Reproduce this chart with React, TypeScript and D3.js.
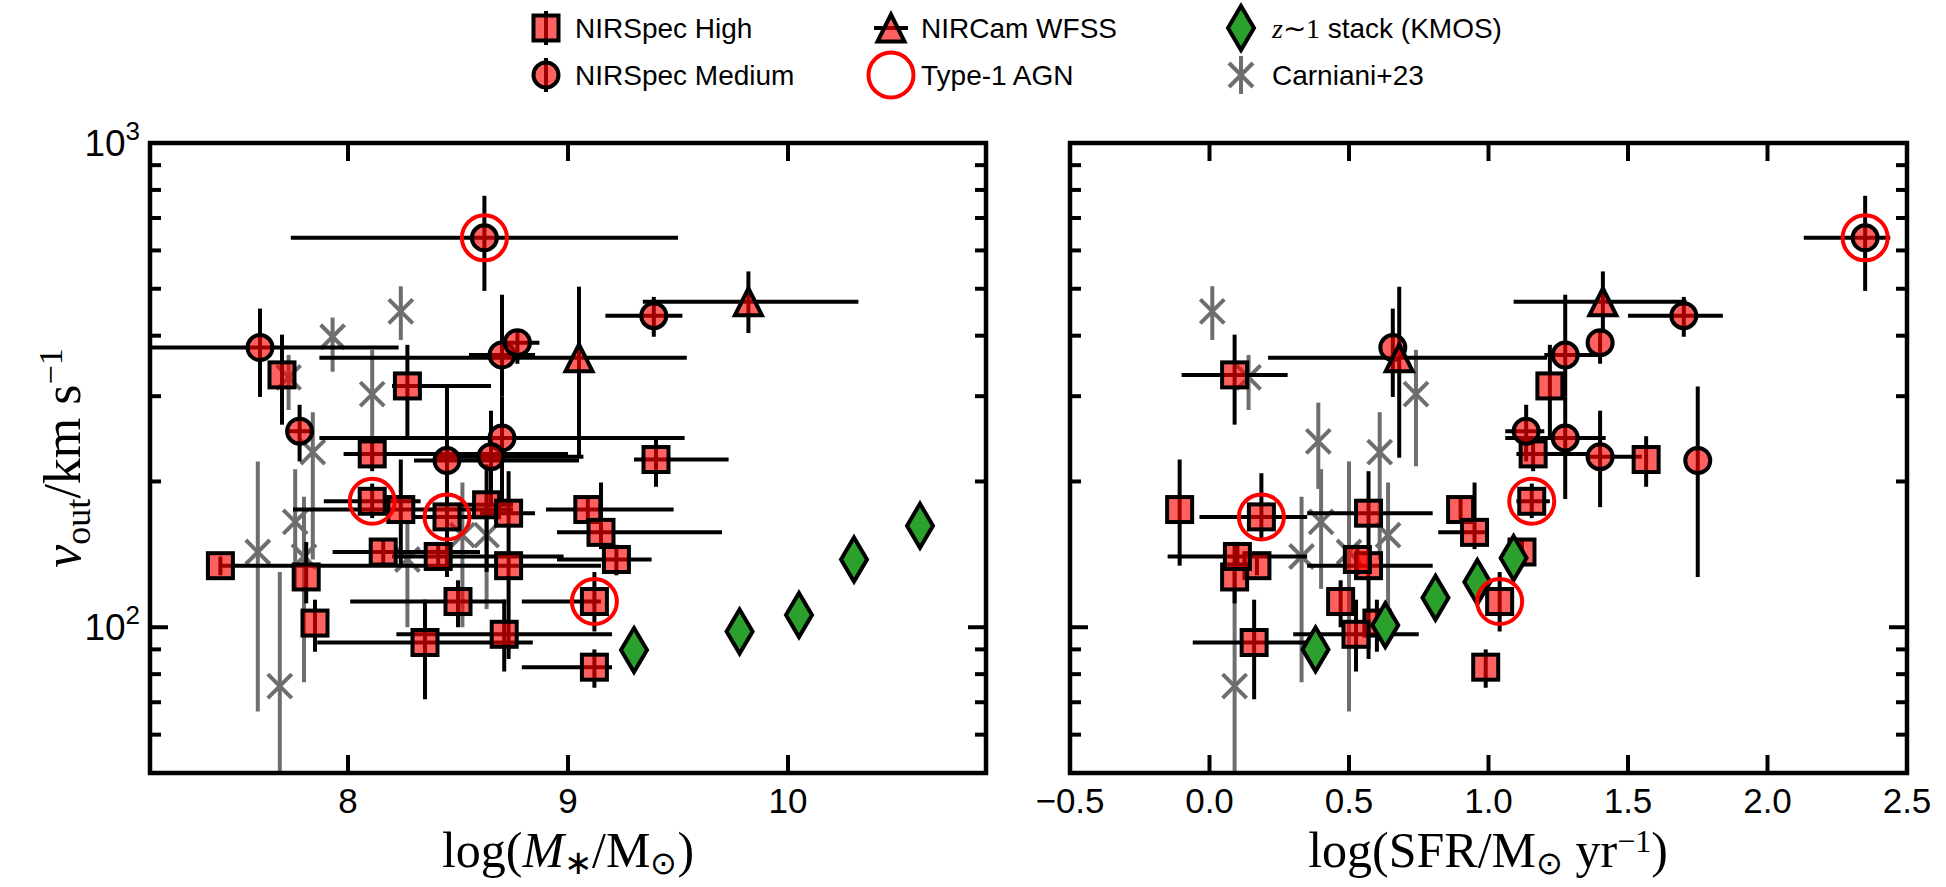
import React from 'react';
import * as d3 from 'd3';

type Pt = {
  m: number | null;
  mE?: [number, number];
  s: number | null;
  sE?: [number, number];
  v: number;
  vE?: [number, number];
  agn?: boolean;
};

// NIRSpec high-resolution grating measurements
const nirspecHigh: Pt[] = [
  { m: 7.42, mE: [7.42, 8.3], s: 0.17, v: 134, vE: [128, 140] },
  { m: 7.81, s: 0.09, v: 127, vE: [112, 150] },
  { m: 7.85, s: 0.6, v: 102, vE: [89, 114] },
  { m: 8.11, mE: [7.98, 9.0], s: 1.16, sE: [1.1, 1.36], v: 228, vE: [210, 245] },
  { m: 8.11, mE: [7.89, 8.33], s: 1.155, sE: [1.1, 1.22], v: 182, vE: [168, 198], agn: true },
  { m: 8.24, mE: [7.75, 8.75], s: -0.107, v: 175, vE: [134, 222] },
  { m: 8.45, mE: [8.3, 8.6], s: 0.186, sE: [-0.036, 0.35], v: 169, vE: [152, 208], agn: true },
  { m: 8.63, mE: [8.5, 8.75], s: null, v: 179, vE: [130, 217] },
  { m: 8.73, mE: [8.6, 8.85], s: 0.57, sE: [0.35, 0.8], v: 172, vE: [150, 210] },
  { m: 8.16, mE: [7.93, 8.6], s: 1.12, v: 143, vE: [135, 152] },
  { m: 8.41, mE: [8.2, 8.98], s: 0.1, sE: [-0.15, 0.35], v: 140, vE: [132, 150] },
  { m: 8.73, mE: [8.3, 9.15], s: 0.57, sE: [0.35, 0.8], v: 134, vE: [86, 150] },
  { m: 8.5, mE: [8.01, 8.72], s: 0.47, v: 113, vE: [100, 125] },
  { m: 8.35, mE: [7.86, 8.84], s: 0.16, sE: [-0.06, 0.38], v: 93, vE: [71, 114] },
  { m: 8.71, mE: [8.22, 9.2], s: 0.525, sE: [0.3, 0.75], v: 96.7, vE: [81, 114] },
  { m: 9.4, mE: [9.3, 9.73], s: 1.565, v: 222, vE: [195, 248] },
  { m: 9.09, mE: [8.9, 9.48], s: 0.9, v: 175, vE: [165, 185] },
  { m: 9.15, mE: [8.95, 9.7], s: 0.95, sE: [0.82, 1.0], v: 157, vE: [145, 199] },
  { m: 9.22, mE: [8.95, 9.38], s: 0.53, v: 138, vE: [128, 148] },
  { m: 9.12, mE: [8.79, 9.15], s: 1.04, v: 113, vE: [98, 130], agn: true },
  { m: 9.12, mE: [8.79, 9.2], s: 0.99, v: 82.7, vE: [75, 90] },
  { m: 8.27, mE: [8.2, 8.65], s: 1.22, v: 315, vE: [247, 383] },
  { m: 7.7, s: 0.09, sE: [-0.1, 0.28], v: 332, vE: [262, 402] },
];

// NIRSpec medium-resolution grating measurements
const nirspecMedium: Pt[] = [
  { m: 8.62, mE: [7.74, 9.5], s: 2.35, sE: [2.13, 2.44], v: 637, vE: [495, 778], agn: true },
  { m: 7.6, mE: [6.9, 8.23], s: 0.657, v: 378, vE: [299, 455] },
  { m: 8.7, mE: [8.55, 8.85], s: 1.275, sE: [1.2, 1.4], v: 365, vE: [300, 486] },
  { m: 8.77, mE: [8.72, 8.87], s: 1.4, v: 387, vE: [350, 410] },
  { m: 7.78, mE: [7.72, 7.84], s: 1.135, sE: [1.06, 1.2], v: 254, vE: [220, 288] },
  { m: 8.7, mE: [7.87, 9.53], s: 1.275, sE: [1.06, 1.42], v: 246, vE: [184, 300] },
  { m: 8.45, mE: [8.3, 9.05], s: 1.75, v: 221, vE: [127, 314] },
  { m: 8.65, mE: [8.4, 9.07], s: 1.4, sE: [1.35, 1.55], v: 225, vE: [177, 280] },
  { m: 9.39, mE: [9.17, 9.52], s: 1.7, sE: [1.5, 1.84], v: 440, vE: [398, 481] },
];

// NIRCam grism measurements
const nircamWfss: Pt[] = [
  { m: 9.05, mE: [7.87, 9.54], s: 0.68, sE: [0.21, 1.21], v: 360, vE: [224, 505] },
  { m: 9.82, mE: [9.34, 10.32], s: 1.41, sE: [1.09, 1.71], v: 470, vE: [405, 543] },
];

// Carniani et al. 2023 comparison sample
const carniani23: Pt[] = [
  { m: 8.24, s: 0.01, v: 449, vE: [392, 506] },
  { m: 7.93, s: null, v: 398, vE: [337, 436] },
  { m: 7.73, s: 0.14, v: 328, vE: [281, 365] },
  { m: 8.11, s: 0.74, v: 303, vE: [215, 374] },
  { m: 7.84, s: 0.61, v: 230, vE: [138, 278] },
  { m: null, s: 0.39, v: 242, vE: [193, 291] },
  { m: 7.59, s: 0.5, v: 143, vE: [67, 220] },
  { m: 7.76, s: 0.4, v: 165, vE: [120, 212] },
  { m: 7.8, s: 0.33, v: 140, vE: [77, 186] },
  { m: 7.69, s: 0.09, v: 75.6, vE: [40, 130] },
  { m: 8.27, s: null, v: 138, vE: [100, 165] },
  { m: 8.52, s: 0.64, v: 155, vE: [100, 199] },
  { m: 8.63, s: null, v: 155, vE: [109, 190] },
];

// z~1 KMOS stacks, binned in stellar mass and in SFR
const kmosStackMass = [
  { x: 9.3, v: 89.7 },
  { x: 9.78, v: 98 },
  { x: 10.05, v: 106 },
  { x: 10.3, v: 138 },
  { x: 10.6, v: 162 },
];
const kmosStackSfr = [
  { x: 0.38, v: 90 },
  { x: 0.63, v: 101 },
  { x: 0.81, v: 115 },
  { x: 0.96, v: 124 },
  { x: 1.09, v: 139 },
];

const massTicks = [8, 9, 10];
const sfrTicks = [-0.5, 0, 0.5, 1, 1.5, 2, 2.5];
const vMajor = [100, 1000];
const vMinor = [60, 70, 80, 90, 200, 300, 400, 500, 600, 700, 800, 900];

const SANS = "'Liberation Sans', Arial, sans-serif";
const SERIF = "'Liberation Serif', 'Times New Roman', serif";
const RED_FACE = 'rgba(255,0,0,0.62)';
const GREY = '#6e6e6e';
const GREEN = '#2ca02c';

const TOP = 143;
const BOTTOM = 773;

const yScale = d3.scaleLog().domain([50, 1000]).range([BOTTOM, TOP]);
const xMass = d3.scaleLinear().domain([7.1, 10.9]).range([150, 986]);
const xSfr = d3.scaleLinear().domain([-0.5, 2.5]).range([1070, 1907]);

type Shape = 'square' | 'circle' | 'triangle';

function Marker({ shape, cx, cy }: { shape: Shape; cx: number; cy: number }) {
  const common = { fill: RED_FACE, stroke: '#000', strokeWidth: 4 };
  if (shape === 'square') {
    return <rect x={cx - 12.5} y={cy - 12.5} width={25} height={25} {...common} />;
  }
  if (shape === 'circle') {
    return <circle cx={cx} cy={cy} r={12.5} {...common} />;
  }
  const h = 13.5;
  return (
    <polygon
      points={`${cx},${cy - h} ${cx - h},${cy + h} ${cx + h},${cy + h}`}
      strokeLinejoin="miter"
      {...common}
    />
  );
}

function Diamond({ cx, cy }: { cx: number; cy: number }) {
  const hw = 13;
  const hh = 22;
  return (
    <polygon
      points={`${cx},${cy - hh} ${cx + hw},${cy} ${cx},${cy + hh} ${cx - hw},${cy}`}
      fill={GREEN}
      stroke="#000"
      strokeWidth={4}
      strokeLinejoin="miter"
    />
  );
}

function Cross({ cx, cy }: { cx: number; cy: number }) {
  const a = 12;
  return (
    <g stroke={GREY} strokeWidth={4}>
      <line x1={cx - a} y1={cy - a} x2={cx + a} y2={cy + a} />
      <line x1={cx - a} y1={cy + a} x2={cx + a} y2={cy - a} />
    </g>
  );
}

type PanelProps = {
  id: string;
  x: d3.ScaleLinear<number, number>;
  ticks: number[];
  fmt: (n: number) => string;
  getX: (p: Pt) => number | null;
  getXE: (p: Pt) => [number, number] | undefined;
  stack: { x: number; v: number }[];
  yLabels: boolean;
};

function Panel({ id, x, ticks, fmt, getX, getXE, stack, yLabels }: PanelProps) {
  const [x0, x1] = x.range();
  const series: { pts: Pt[]; shape: Shape }[] = [
    { pts: nirspecHigh, shape: 'square' },
    { pts: nirspecMedium, shape: 'circle' },
    { pts: nircamWfss, shape: 'triangle' },
  ];
  const shown = (p: Pt) => getX(p) !== null;
  const bars = (p: Pt, key: string, color: string, w: number) => {
    const cx = x(getX(p) as number);
    const cy = yScale(p.v);
    const xe = getXE(p);
    return (
      <g key={key} stroke={color} strokeWidth={w}>
        {xe && <line x1={x(xe[0])} x2={x(xe[1])} y1={cy} y2={cy} />}
        {p.vE && <line x1={cx} x2={cx} y1={yScale(p.vE[0])} y2={yScale(p.vE[1])} />}
      </g>
    );
  };
  const majorLen = 18;
  const minorLen = 11;
  return (
    <g>
      <defs>
        <clipPath id={`clip-${id}`}>
          <rect x={x0} y={TOP} width={x1 - x0} height={BOTTOM - TOP} />
        </clipPath>
      </defs>
      <g clipPath={`url(#clip-${id})`}>
        {carniani23.filter(shown).map((p, i) => bars(p, `cb${i}`, GREY, 4))}
        {carniani23.filter(shown).map((p, i) => (
          <Cross key={`cm${i}`} cx={x(getX(p) as number)} cy={yScale(p.v)} />
        ))}
        {series.map((s, si) => s.pts.filter(shown).map((p, i) => bars(p, `b${si}-${i}`, '#000', 4)))}
        {series.map((s, si) =>
          s.pts.filter(shown).map((p, i) => (
            <Marker key={`m${si}-${i}`} shape={s.shape} cx={x(getX(p) as number)} cy={yScale(p.v)} />
          )),
        )}
        {stack.map((d, i) => (
          <Diamond key={`d${i}`} cx={x(d.x)} cy={yScale(d.v)} />
        ))}
        {series.map((s, si) =>
          s.pts.filter((p) => shown(p) && p.agn).map((p, i) => (
            <circle
              key={`a${si}-${i}`}
              cx={x(getX(p) as number)}
              cy={yScale(p.v)}
              r={22.5}
              fill="none"
              stroke="#ff0000"
              strokeWidth={4}
            />
          )),
        )}
      </g>
      {/* ticks on all four sides, pointing inward */}
      <g stroke="#000" strokeWidth={4}>
        {ticks.map((t) => (
          <g key={`xt${t}`}>
            <line x1={x(t)} x2={x(t)} y1={BOTTOM} y2={BOTTOM - majorLen} />
            <line x1={x(t)} x2={x(t)} y1={TOP} y2={TOP + majorLen} />
          </g>
        ))}
        {vMajor.map((t) => (
          <g key={`yM${t}`}>
            <line x1={x0} x2={x0 + majorLen} y1={yScale(t)} y2={yScale(t)} />
            <line x1={x1} x2={x1 - majorLen} y1={yScale(t)} y2={yScale(t)} />
          </g>
        ))}
        {vMinor.map((t) => (
          <g key={`ym${t}`}>
            <line x1={x0} x2={x0 + minorLen} y1={yScale(t)} y2={yScale(t)} />
            <line x1={x1} x2={x1 - minorLen} y1={yScale(t)} y2={yScale(t)} />
          </g>
        ))}
      </g>
      <rect x={x0} y={TOP} width={x1 - x0} height={BOTTOM - TOP} fill="none" stroke="#000" strokeWidth={4.5} />
      <g fontFamily={SANS} fontSize={35} fill="#000" textAnchor="middle">
        {ticks.map((t) => (
          <text key={`xl${t}`} x={x(t)} y={813}>
            {fmt(t)}
          </text>
        ))}
      </g>
      {yLabels &&
        vMajor.map((t) => (
          <text key={`yl${t}`} x={140} y={yScale(t) + 13} fontFamily={SANS} fontSize={37} textAnchor="end">
            10
            <tspan fontSize={26} dy={-16}>
              {Math.round(Math.log10(t))}
            </tspan>
          </text>
        ))}
    </g>
  );
}

function Legend() {
  const cols = [546, 891, 1241];
  const textX = [575, 921, 1272];
  const rows = [28, 75];
  const tsize = 28;
  const label = (col: number, row: number, content: React.ReactNode) => (
    <text x={textX[col]} y={rows[row] + 10} fontFamily={SANS} fontSize={tsize}>
      {content}
    </text>
  );
  const stem = 17;
  return (
    <g>
      {/* NIRSpec High */}
      <line x1={cols[0]} x2={cols[0]} y1={rows[0] - stem} y2={rows[0] + stem} stroke="#000" strokeWidth={4} />
      <Marker shape="square" cx={cols[0]} cy={rows[0]} />
      {label(0, 0, 'NIRSpec High')}
      {/* NIRSpec Medium */}
      <line x1={cols[0]} x2={cols[0]} y1={rows[1] - stem} y2={rows[1] + stem} stroke="#000" strokeWidth={4} />
      <Marker shape="circle" cx={cols[0]} cy={rows[1]} />
      {label(0, 1, 'NIRSpec Medium')}
      {/* NIRCam WFSS */}
      <line x1={cols[1] - stem} x2={cols[1] + stem} y1={rows[0]} y2={rows[0]} stroke="#000" strokeWidth={4} />
      <Marker shape="triangle" cx={cols[1]} cy={rows[0]} />
      {label(1, 0, 'NIRCam WFSS')}
      {/* Type-1 AGN */}
      <circle cx={cols[1]} cy={rows[1]} r={22.5} fill="none" stroke="#ff0000" strokeWidth={4} />
      {label(1, 1, 'Type-1 AGN')}
      {/* KMOS stack */}
      <Diamond cx={cols[2]} cy={rows[0]} />
      {label(
        2,
        0,
        <>
          <tspan fontFamily={SERIF} fontStyle="italic">z</tspan>
          <tspan fontFamily={SERIF}>∼1</tspan>
          <tspan> stack (KMOS)</tspan>
        </>,
      )}
      {/* Carniani+23 */}
      <line x1={cols[2]} x2={cols[2]} y1={rows[1] - 19} y2={rows[1] + 19} stroke={GREY} strokeWidth={4} />
      <Cross cx={cols[2]} cy={rows[1]} />
      {label(2, 1, 'Carniani+23')}
    </g>
  );
}

export default function App() {
  const sfrFmt = d3.format('.1f');
  return (
    <svg
      width={1946}
      height={887}
      style={{ position: 'absolute', left: 0, top: 0, background: '#fff' }}
    >
      <rect width={1946} height={887} fill="#fff" />
      <Legend />
      <Panel
        id="mass"
        x={xMass}
        ticks={massTicks}
        fmt={d3.format('d')}
        getX={(p) => p.m}
        getXE={(p) => p.mE}
        stack={kmosStackMass}
        yLabels
      />
      <Panel
        id="sfr"
        x={xSfr}
        ticks={sfrTicks}
        fmt={sfrFmt}
        getX={(p) => p.s}
        getXE={(p) => p.sE}
        stack={kmosStackSfr}
        yLabels={false}
      />
      {/* y-axis label */}
      <text
        transform="translate(80,458) rotate(-90)"
        textAnchor="middle"
        fontFamily={SERIF}
        fontSize={52}
      >
        <tspan fontStyle="italic">v</tspan>
        <tspan fontSize={36} dy={10}>out</tspan>
        <tspan dy={-10}>/km s</tspan>
        <tspan fontSize={34} dy={-18}>−1</tspan>
      </text>
      {/* x-axis labels */}
      <text x={568} y={867} textAnchor="middle" fontFamily={SERIF} fontSize={50}>
        log(<tspan fontStyle="italic">M</tspan>
        <tspan fontSize={34} dy={7}>∗</tspan>
        <tspan dy={-7}>/M</tspan>
        <tspan fontSize={32} dy={7}>⊙</tspan>
        <tspan dy={-7}>)</tspan>
      </text>
      <text x={1488} y={867} textAnchor="middle" fontFamily={SERIF} fontSize={50}>
        log(SFR/M
        <tspan fontSize={32} dy={7}>⊙</tspan>
        <tspan dy={-7}> yr</tspan>
        <tspan fontSize={32} dy={-15}>−1</tspan>
        <tspan dy={15}>)</tspan>
      </text>
    </svg>
  );
}
